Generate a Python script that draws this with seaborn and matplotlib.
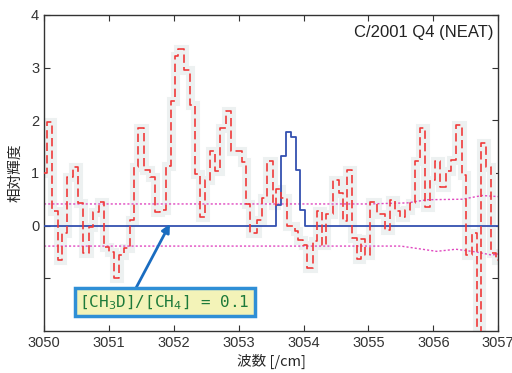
import matplotlib
matplotlib.use("Agg")
import matplotlib.pyplot as plt
import numpy as np
import pandas as pd
import seaborn as sns

# observed spectrum (step left edges, relative brightness)
obs_x = [3050.00, 3050.05, 3050.13, 3050.21, 3050.28, 3050.35, 3050.44, 3050.53,
         3050.60, 3050.69, 3050.76, 3050.84, 3050.92, 3051.00, 3051.08, 3051.16,
         3051.24, 3051.32, 3051.38, 3051.45, 3051.54, 3051.63, 3051.71, 3051.79,
         3051.88, 3051.95, 3052.02, 3052.07, 3052.15, 3052.25, 3052.33, 3052.40,
         3052.48, 3052.56, 3052.63, 3052.71, 3052.80, 3052.88, 3053.05, 3053.11,
         3053.18, 3053.28, 3053.36, 3053.43, 3053.53, 3053.58, 3053.66, 3053.74,
         3053.87, 3053.92, 3053.99, 3054.05, 3054.14, 3054.20, 3054.28, 3054.35,
         3054.46, 3054.54, 3054.61, 3054.67, 3054.74, 3054.82, 3054.88, 3054.95,
         3055.03, 3055.13, 3055.25, 3055.33, 3055.41, 3055.48, 3055.57, 3055.64,
         3055.72, 3055.80, 3055.87, 3055.95, 3056.03, 3056.10, 3056.20, 3056.27,
         3056.35, 3056.44, 3056.51, 3056.59, 3056.67, 3056.74, 3056.82, 3056.89,
         3056.97]
obs_y = [1.00, 1.97, 0.27, -0.65, -0.15, 0.93, 1.12, 0.42,
         -0.53, -0.03, 0.25, 0.44, -0.40, -0.50, -1.00, -0.55,
         -0.42, 0.10, 1.12, 1.85, 1.05, 0.93, 0.25, 0.30,
         1.13, 2.37, 3.22, 3.35, 2.95, 2.29, 0.98, 0.17,
         0.87, 1.41, 1.03, 1.85, 2.17, 1.41, 1.20, 0.41,
         -0.14, 0.11, 0.52, 1.22, 0.39, 0.70, 0.52, 0.00,
         -0.10, -0.27, -0.37, -0.80, -0.29, 0.27, -0.37, 0.22,
         0.87, 0.62, 0.08, 1.06, -0.24, -0.63, -0.25, -0.55,
         0.45, 0.22, -0.09, 0.49, 0.27, 0.17, 0.30, 0.43,
         1.22, 1.85, 0.36, 0.87, 1.22, 0.74, 1.03, 1.25,
         1.91, 0.96, -0.56, -0.15, -2.60, 1.57, 1.12, -0.52,
         -0.65]

# model, [CH3D]/[CH4] = 0.1
model_x = [3050.00, 3053.58, 3053.65, 3053.73, 3053.80, 3053.88, 3053.95, 3054.02]
model_y = [0.0, 0.39, 1.33, 1.77, 1.68, 1.06, 0.30, 0.0]

# noise level (dotted)
sig_up_x = [3050.0, 3055.0, 3055.6, 3055.9, 3056.45, 3056.75, 3057.0]
sig_up_y = [0.41, 0.41, 0.43, 0.49, 0.50, 0.57, 0.55]
sig_lo_x = [3050.0, 3055.5, 3056.05, 3056.35, 3056.65, 3056.9, 3057.0]
sig_lo_y = [-0.39, -0.39, -0.49, -0.45, -0.50, -0.56, -0.54]

x_end = 3057.0

sns.set_style("ticks")
plt.rcParams['font.family'] = ['Liberation Sans', 'Noto Sans CJK JP', 'DejaVu Sans']

fig = plt.figure(figsize=(5.12, 3.73), dpi=100)
ax = fig.add_axes([0.086, 0.113, 0.887, 0.847])

obs = pd.DataFrame({'x': obs_x + [x_end], 'y': obs_y + [obs_y[-1]]})
mod = pd.DataFrame({'x': model_x + [x_end], 'y': model_y + [model_y[-1]]})

# light grey halo round the observed steps
sns.lineplot(data=obs, x='x', y='y', ax=ax, color='#edf1f1', lw=6.5,
             drawstyle='steps-post', zorder=1, solid_joinstyle='miter')
sns.lineplot(x=sig_up_x, y=sig_up_y, ax=ax, color='#e048c0', lw=1.0,
             linestyle=(0, (1.5, 1.5)), zorder=2)
sns.lineplot(x=sig_lo_x, y=sig_lo_y, ax=ax, color='#e048c0', lw=1.0,
             linestyle=(0, (1.5, 1.5)), zorder=2)
sns.lineplot(data=mod, x='x', y='y', ax=ax, color='#3450b0', lw=1.3,
             drawstyle='steps-post', zorder=3)
sns.lineplot(data=obs, x='x', y='y', ax=ax, color='#f03a3a', lw=1.2,
             linestyle=(0, (5, 2.5)), drawstyle='steps-post', zorder=4)

ax.set_xlim(3050, 3057)
ax.set_ylim(-2, 4)
ax.set_xticks(range(3050, 3058))
ax.set_yticks([-1, 0, 1, 2, 3, 4])
ax.set_yticklabels(['', '0', '1', '2', '3', '4'])
ax.tick_params(direction='in', length=4, top=True, right=True, labelsize=10.5,
               width=0.8, colors='#333333')
for s in ax.spines.values():
    s.set_linewidth(1.0)
    s.set_color('#333333')

ax.set_xlabel('波数 [/cm]', fontsize=10.5, family=['Noto Sans CJK JP'], labelpad=3)
ax.set_ylabel('相対輝度', fontsize=10.5, family=['Noto Sans CJK JP'], labelpad=6)

ax.text(3056.93, 3.66, 'C/2001 Q4 (NEAT)', ha='right', va='center', fontsize=12,
        color='#222222')

ax.annotate('', xy=(3051.94, 0.03), xytext=(3051.42, -1.18),
            arrowprops=dict(arrowstyle='-|>', color='#1a6cc0', lw=2.0,
                            mutation_scale=12, shrinkA=0, shrinkB=0), zorder=5)
ax.text(3051.86, -1.46, '[CH$_3$D]/[CH$_4$] = 0.1', ha='center', va='center',
        fontsize=11.5, color='#1d7a3a', family=['DejaVu Sans Mono'],
        bbox=dict(boxstyle='square,pad=0.3', fc='#f3f3b8', ec='#2f8fd6', lw=2.5),
        zorder=6)

fig.savefig('out.png', dpi=100)
